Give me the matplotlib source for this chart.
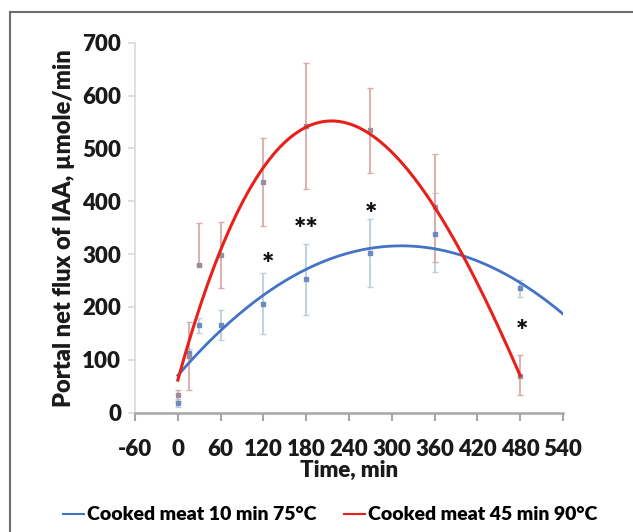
import numpy as np
import matplotlib.pyplot as plt
from matplotlib.lines import Line2D

# Dados
tempo = [0, 15, 30, 60, 120, 180, 270, 360, 480]

azul_media = [18, 112, 166, 165, 205, 252, 302, 339, 236]
azul_erro_inf = [8, 8, 16, 28, 57, 67, 64, 73, 17]
azul_erro_sup = [8, 8, 14, 29, 59, 67, 65, 76, 15]

verm_media = [33, 107, 280, 298, 436, 542, 534, 389, 69]
verm_erro_inf = [10, 64, 0, 63, 83, 119, 81, 104, 35]
verm_erro_sup = [10, 64, 78, 62, 84, 120, 80, 101, 40]

estrela_x = [126, 180, 271, 483]
estrela_y = [296, 362, 389, 169]
estrela_txt = ['*', '**', '*', '*']

rotulo_azul = 'Cooked meat 10 min 75°C'
rotulo_verm = 'Cooked meat 45 min 90°C'

plt.rcParams['font.family'] = ['Lato', 'DejaVu Sans']
plt.rcParams['axes.unicode_minus'] = False

fig = plt.figure(figsize=(6.33, 5.32), dpi=100)
ax = fig.add_axes([0.2133, 0.2243, 0.6761, 0.6954])

# barras de erro
ax.errorbar(tempo, azul_media, yerr=[azul_erro_inf, azul_erro_sup], fmt='s',
            ms=2.2, color='#6a8cbf', ecolor='#bccfdb', elinewidth=1.3,
            capsize=2, capthick=1, zorder=2)
ax.errorbar(tempo, verm_media, yerr=[verm_erro_inf, verm_erro_sup], fmt='s',
            ms=2.2, color='#9a8f9c', ecolor='#dcaaaa', elinewidth=1.3,
            capsize=2, capthick=1, zorder=2)

# linhas de tendência polinomiais (como no Excel)
c_azul = np.polyfit(tempo, azul_media, 2)
c_verm = np.polyfit(tempo, verm_media, 3)
t_azul = np.linspace(0, 540, 300)
t_verm = np.linspace(0, 480, 300)
ax.plot(t_azul, np.polyval(c_azul, t_azul), color='#4472c4', lw=2.0, zorder=3)
ax.plot(t_verm, np.polyval(c_verm, t_verm), color='#e8201c', lw=2.2, zorder=3)

# asteriscos de significância (glifo deslocado para baixo para centrar)
for x, y, s in zip(estrela_x, estrela_y, estrela_txt):
    ax.annotate(s, (x, y), xytext=(0, -6), textcoords='offset points',
                ha='center', va='center', fontsize=21, fontweight='heavy',
                color='#111111', zorder=4)

ax.set_xlim(-60, 540)
ax.set_ylim(0, 700)
ax.set_xticks(np.arange(-60, 541, 60))
ax.set_yticks(np.arange(0, 701, 100))

for s in ['top', 'right']:
    ax.spines[s].set_visible(False)
ax.spines['left'].set_color('#d9d9d9')
ax.spines['left'].set_linewidth(1.2)
ax.spines['bottom'].set_color('#a6a6a6')
ax.spines['bottom'].set_linewidth(1.8)
ax.tick_params(axis='y', length=5, color='#d9d9d9', width=1.2, pad=5)
ax.tick_params(axis='x', length=6, color='#a6a6a6', width=1.5, pad=13)
for lab in ax.get_xticklabels() + ax.get_yticklabels():
    lab.set_fontsize(16)
    lab.set_fontweight('heavy')
    lab.set_color('#1a1a1a')

ax.set_xlabel('Time, min', fontsize=16, fontweight='heavy', color='#1a1a1a', labelpad=0)
ax.set_ylabel('Portal net flux of IAA, µmole/min', fontsize=17, fontweight='heavy',
              color='#1a1a1a', labelpad=5)

handles = [Line2D([], [], color='#4472c4', lw=1.5),
           Line2D([], [], color='#e8201c', lw=1.5)]
fig.legend(handles, [rotulo_azul, rotulo_verm], loc='center',
           bbox_to_anchor=(0.522, 0.032), ncol=2, frameon=False,
           prop={'weight': 'heavy', 'size': 14},
           handlelength=1.1, handletextpad=0.15, columnspacing=1.4)

# moldura (apenas esquerda e topo visíveis)
fig.add_artist(Line2D([10 / 633, 10 / 633], [0, 1 - 12 / 532],
                      transform=fig.transFigure, color='#6e6e6e', lw=1.5))
fig.add_artist(Line2D([10 / 633, 1], [1 - 12 / 532, 1 - 12 / 532],
                      transform=fig.transFigure, color='#6e6e6e', lw=1.5))

fig.savefig('out.png', dpi=100)
